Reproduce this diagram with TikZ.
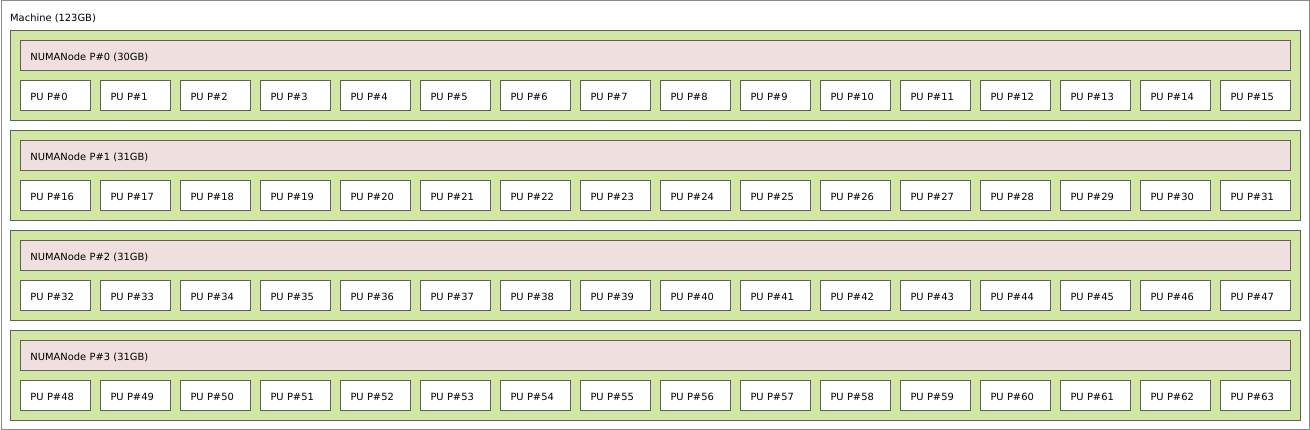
\documentclass[tikz,border=0pt]{standalone}
\usepackage{fontspec}
\setmainfont{DejaVu Sans}
\definecolor{pkgfill}{HTML}{D2E7A4}
\definecolor{numafill}{HTML}{EFDFDE}
\definecolor{boxline}{HTML}{5F5F5F}
\definecolor{machline}{HTML}{8A8A8A}
\begin{document}
\begin{tikzpicture}[x=1pt,y=-1pt,
  font=\fontsize{9.9}{11}\selectfont,
  machinebox/.style={draw=machline, fill=white, line width=1pt, inner sep=0pt,
    minimum width=1308pt, minimum height=428pt, anchor=north west},
  pkgbox/.style={draw=boxline, fill=pkgfill, line width=1pt, inner sep=0pt,
    minimum width=1290pt, minimum height=90pt, anchor=north west},
  numabox/.style={draw=boxline, fill=numafill, line width=1pt, inner xsep=10pt, inner ysep=0pt,
    text width=1250pt, align=left, text height=9.9pt, text depth=0pt,
    minimum height=30pt, anchor=north west},
  pubox/.style={draw=boxline, fill=white, line width=1pt, inner xsep=10pt, inner ysep=0pt,
    text width=50pt, align=left, text height=9.9pt, text depth=0pt,
    minimum height=30pt, anchor=north west},
  lbl/.style={inner sep=0pt, anchor=base west}]
\useasboundingbox (0,0) rectangle (1310,430);
\node[machinebox] (machine) at (0.5,0.5) {};
\node[lbl] (mlabel) at (10,21.5) {Machine (123GB)};
\foreach \p/\m in {0/30,1/31,2/31,3/31}{
  \pgfmathtruncatemacro\yy{30+100*\p}
  \node[pkgbox] (pkg\p) at (10,\yy) {};
  \node[numabox] (numa\p) at (20,\yy+10) {NUMANode P\#\p\ (\m GB)};
  \foreach \i in {0,...,15}{
    \pgfmathtruncatemacro\n{16*\p+\i}
    \node[pubox] (pu\n) at (20+80*\i,\yy+50) {PU P\#\n};
  }
}
\end{tikzpicture}
\end{document}
